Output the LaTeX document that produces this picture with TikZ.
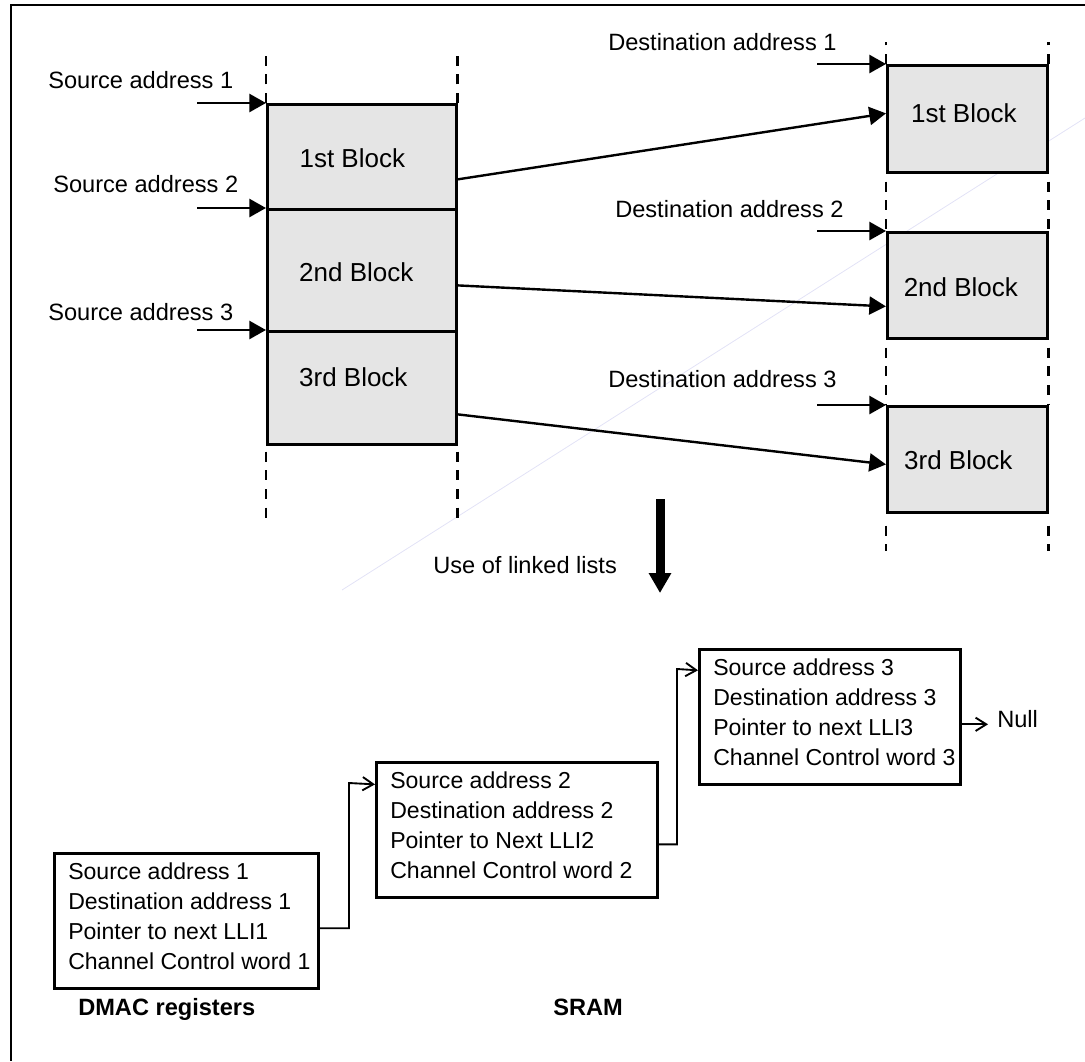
\documentclass[tikz,border=0pt]{standalone}
\usepackage{fontspec}
\setmainfont{Liberation Sans}
\usetikzlibrary{arrows.meta,calc}

% one drawing unit = 0.75pt, y grows downwards
\def\pxu{0.75pt}

\begin{document}
\begin{tikzpicture}[x=0.75pt,y=-0.75pt,
  txt/.style={font=\fontsize{17.7}{22.5}\selectfont, inner sep=0pt},
  bold/.style={font=\fontsize{17.7}{22.5}\selectfont\bfseries, inner sep=0pt},
  block/.style={draw, line width=2pt, fill=black!10, anchor=north west, inner sep=0pt},
  blocktxt/.style={font=\fontsize{19.5}{23}\selectfont, inner sep=0pt},
  srcblock/.style={block, minimum width=189*\pxu},
  dstblock/.style={block, minimum width=160*\pxu},
  feed/.style={line width=2pt, -{Triangle[length=12.5pt,width=13.5pt]}},
  copyline/.style={line width=1.8pt, -{Triangle[length=12.5pt,width=13.5pt]}},
  guide/.style={line width=2.2pt, dash pattern=on 7.5pt off 6.5pt},
  llibox/.style={draw, line width=2pt, anchor=north west, inner sep=0pt},
  lltext/.style={font=\fontsize{17.3}{22.5}\selectfont, inner sep=0pt, align=left, anchor=north west},
  link/.style={line width=1.4pt, -{Straight Barb[length=8pt,width=10pt]}},
]
\useasboundingbox (0,0) rectangle (1085,1061);

% outer frame
\draw[line width=2pt] (1085,5) -- (11,5) -- (11,1061);

% faint diagonal hairline
\draw[color={rgb,255:red,226;green,226;blue,246}, line width=0.6pt] (1085,118) -- (342,590);

% source memory blocks
\node[srcblock, minimum height=105*\pxu] (srcA) at (266,103) {};
\node[srcblock, minimum height=122*\pxu] (srcB) at (266,208) {};
\node[srcblock, minimum height=113*\pxu] (srcC) at (266,330) {};
\node[blocktxt] (srcAt) at ($(srcA.center)+(-9.5,1)$) {1st Block};
\node[blocktxt] (srcBt) at ($(srcB.center)+(-5.5,1.5)$) {2nd Block};
\node[blocktxt] (srcCt) at ($(srcC.center)+(-8.5,-10.5)$) {3rd Block};

\draw[guide] (srcA.north west) -- +(0,-55);
\draw[guide] (srcA.north east) -- +(0,-55);
\draw[guide] ([yshift=-4.5pt]srcC.south west) -- +(0,71);
\draw[guide] ([yshift=-4.5pt]srcC.south east) -- +(0,71);

% destination memory blocks
\node[dstblock, minimum height=107*\pxu] (dstA) at (886,64) {};
\node[dstblock, minimum height=106*\pxu] (dstB) at (886,231) {};
\node[dstblock, minimum height=106*\pxu] (dstC) at (886,405) {};
\node[blocktxt] (dstAt) at ($(dstA.center)+(-3.5,-5.5)$) {1st Block};
\node[blocktxt] (dstBt) at ($(dstB.center)+(-6.5,1.5)$) {2nd Block};
\node[blocktxt] (dstCt) at ($(dstC.center)+(-9,1)$) {3rd Block};

\draw[guide] (dstA.north west) -- +(0,-22);
\draw[guide] (dstA.north east) -- +(0,-22);
\draw[guide] ([yshift=-6pt]dstA.south west) -- (dstB.north west);
\draw[guide] ([yshift=-6pt]dstA.south east) -- (dstB.north east);
\draw[guide] ([yshift=-6pt]dstB.south west) -- (dstC.north west);
\draw[guide] ([yshift=-6pt]dstB.south east) -- (dstC.north east);
\draw[guide] ([yshift=-9pt]dstC.south west) -- +(0,25);
\draw[guide] ([yshift=-9pt]dstC.south east) -- +(0,25);

% source address labels and pointers
\node[txt, anchor=base west] (sa1) at (48,88) {Source address 1};
\node[txt, anchor=base west] (sa2) at (53,192) {Source address 2};
\node[txt, anchor=base west] (sa3) at (48,320) {Source address 3};
\coordinate (sp1) at (197,103);
\coordinate (sp2) at (197,208);
\coordinate (sp3) at (197,330);
\draw[feed] (sp1) -- (srcA.north west);
\draw[feed] (sp2) -- (srcB.north west);
\draw[feed] (sp3) -- (srcC.north west);

% destination address labels and pointers
\node[txt, anchor=base west] (da1) at (608,50) {Destination address 1};
\node[txt, anchor=base west] (da2) at (615,217) {Destination address 2};
\node[txt, anchor=base west] (da3) at (608,387) {Destination address 3};
\coordinate (dp1) at (817,64);
\coordinate (dp2) at (817,231);
\coordinate (dp3) at (817,405);
\draw[feed] (dp1) -- (dstA.north west);
\draw[feed] (dp2) -- (dstB.north west);
\draw[feed] (dp3) -- (dstC.north west);

% block transfers
\draw[copyline] ([yshift=-16.9pt]srcA.east) -- ([yshift=4.1pt]dstA.west);
\draw[copyline] ([yshift=-11.3pt]srcB.east) -- ([yshift=-15.8pt]dstB.west);
\draw[copyline] ([yshift=-19.9pt]srcC.east) -- ([yshift=-3.8pt]dstC.west);

% transition to linked lists
\node[txt, anchor=base west] (use) at (433,573) {Use of linked lists};
\coordinate (fa) at (660,499);
\coordinate (fb) at (660,593);
\draw[line width=6.75pt, -{Triangle[length=15pt,width=16pt]}] (fa) -- (fb);

% linked list items
\node[llibox, minimum width=264*\pxu, minimum height=135*\pxu] (lli1) at (53,852) {};
\node[lltext] (t1) at (68,863) {Source address 1\\Destination address 1\\Pointer to next LLI1\\Channel Control word 1};

\node[llibox, minimum width=281*\pxu, minimum height=135*\pxu] (lli2) at (375,761) {};
\node[lltext] (t2) at (390,772) {Source address 2\\Destination address 2\\Pointer to Next LLI2\\Channel Control word 2};

\node[llibox, minimum width=261*\pxu, minimum height=135*\pxu] (lli3) at (698,648) {};
\node[lltext] (t3) at (713,659) {Source address 3\\Destination address 3\\Pointer to next LLI3\\Channel Control word 3};

\coordinate (k1) at (349,783);
\draw[link] ([yshift=-5.6pt]lli1.east) -| (k1) -- ([yshift=34.1pt]lli2.west);
\coordinate (k2) at (677,669);
\draw[link] ([yshift=-10.9pt]lli2.east) -| (k2) -- ([yshift=34.9pt]lli3.west);

\node[txt, anchor=base west] (null) at (997,727) {Null};
\coordinate (n0) at ([yshift=-5.6pt]lli3.east);
\draw[link, shorten >=6.75pt] (n0) -- (n0 -| null.west);

% memory captions
\node[bold, anchor=base west] (dmac) at (78,1015) {DMAC registers};
\node[bold, anchor=base west] (sram) at (553,1015) {SRAM};
\end{tikzpicture}
\end{document}
